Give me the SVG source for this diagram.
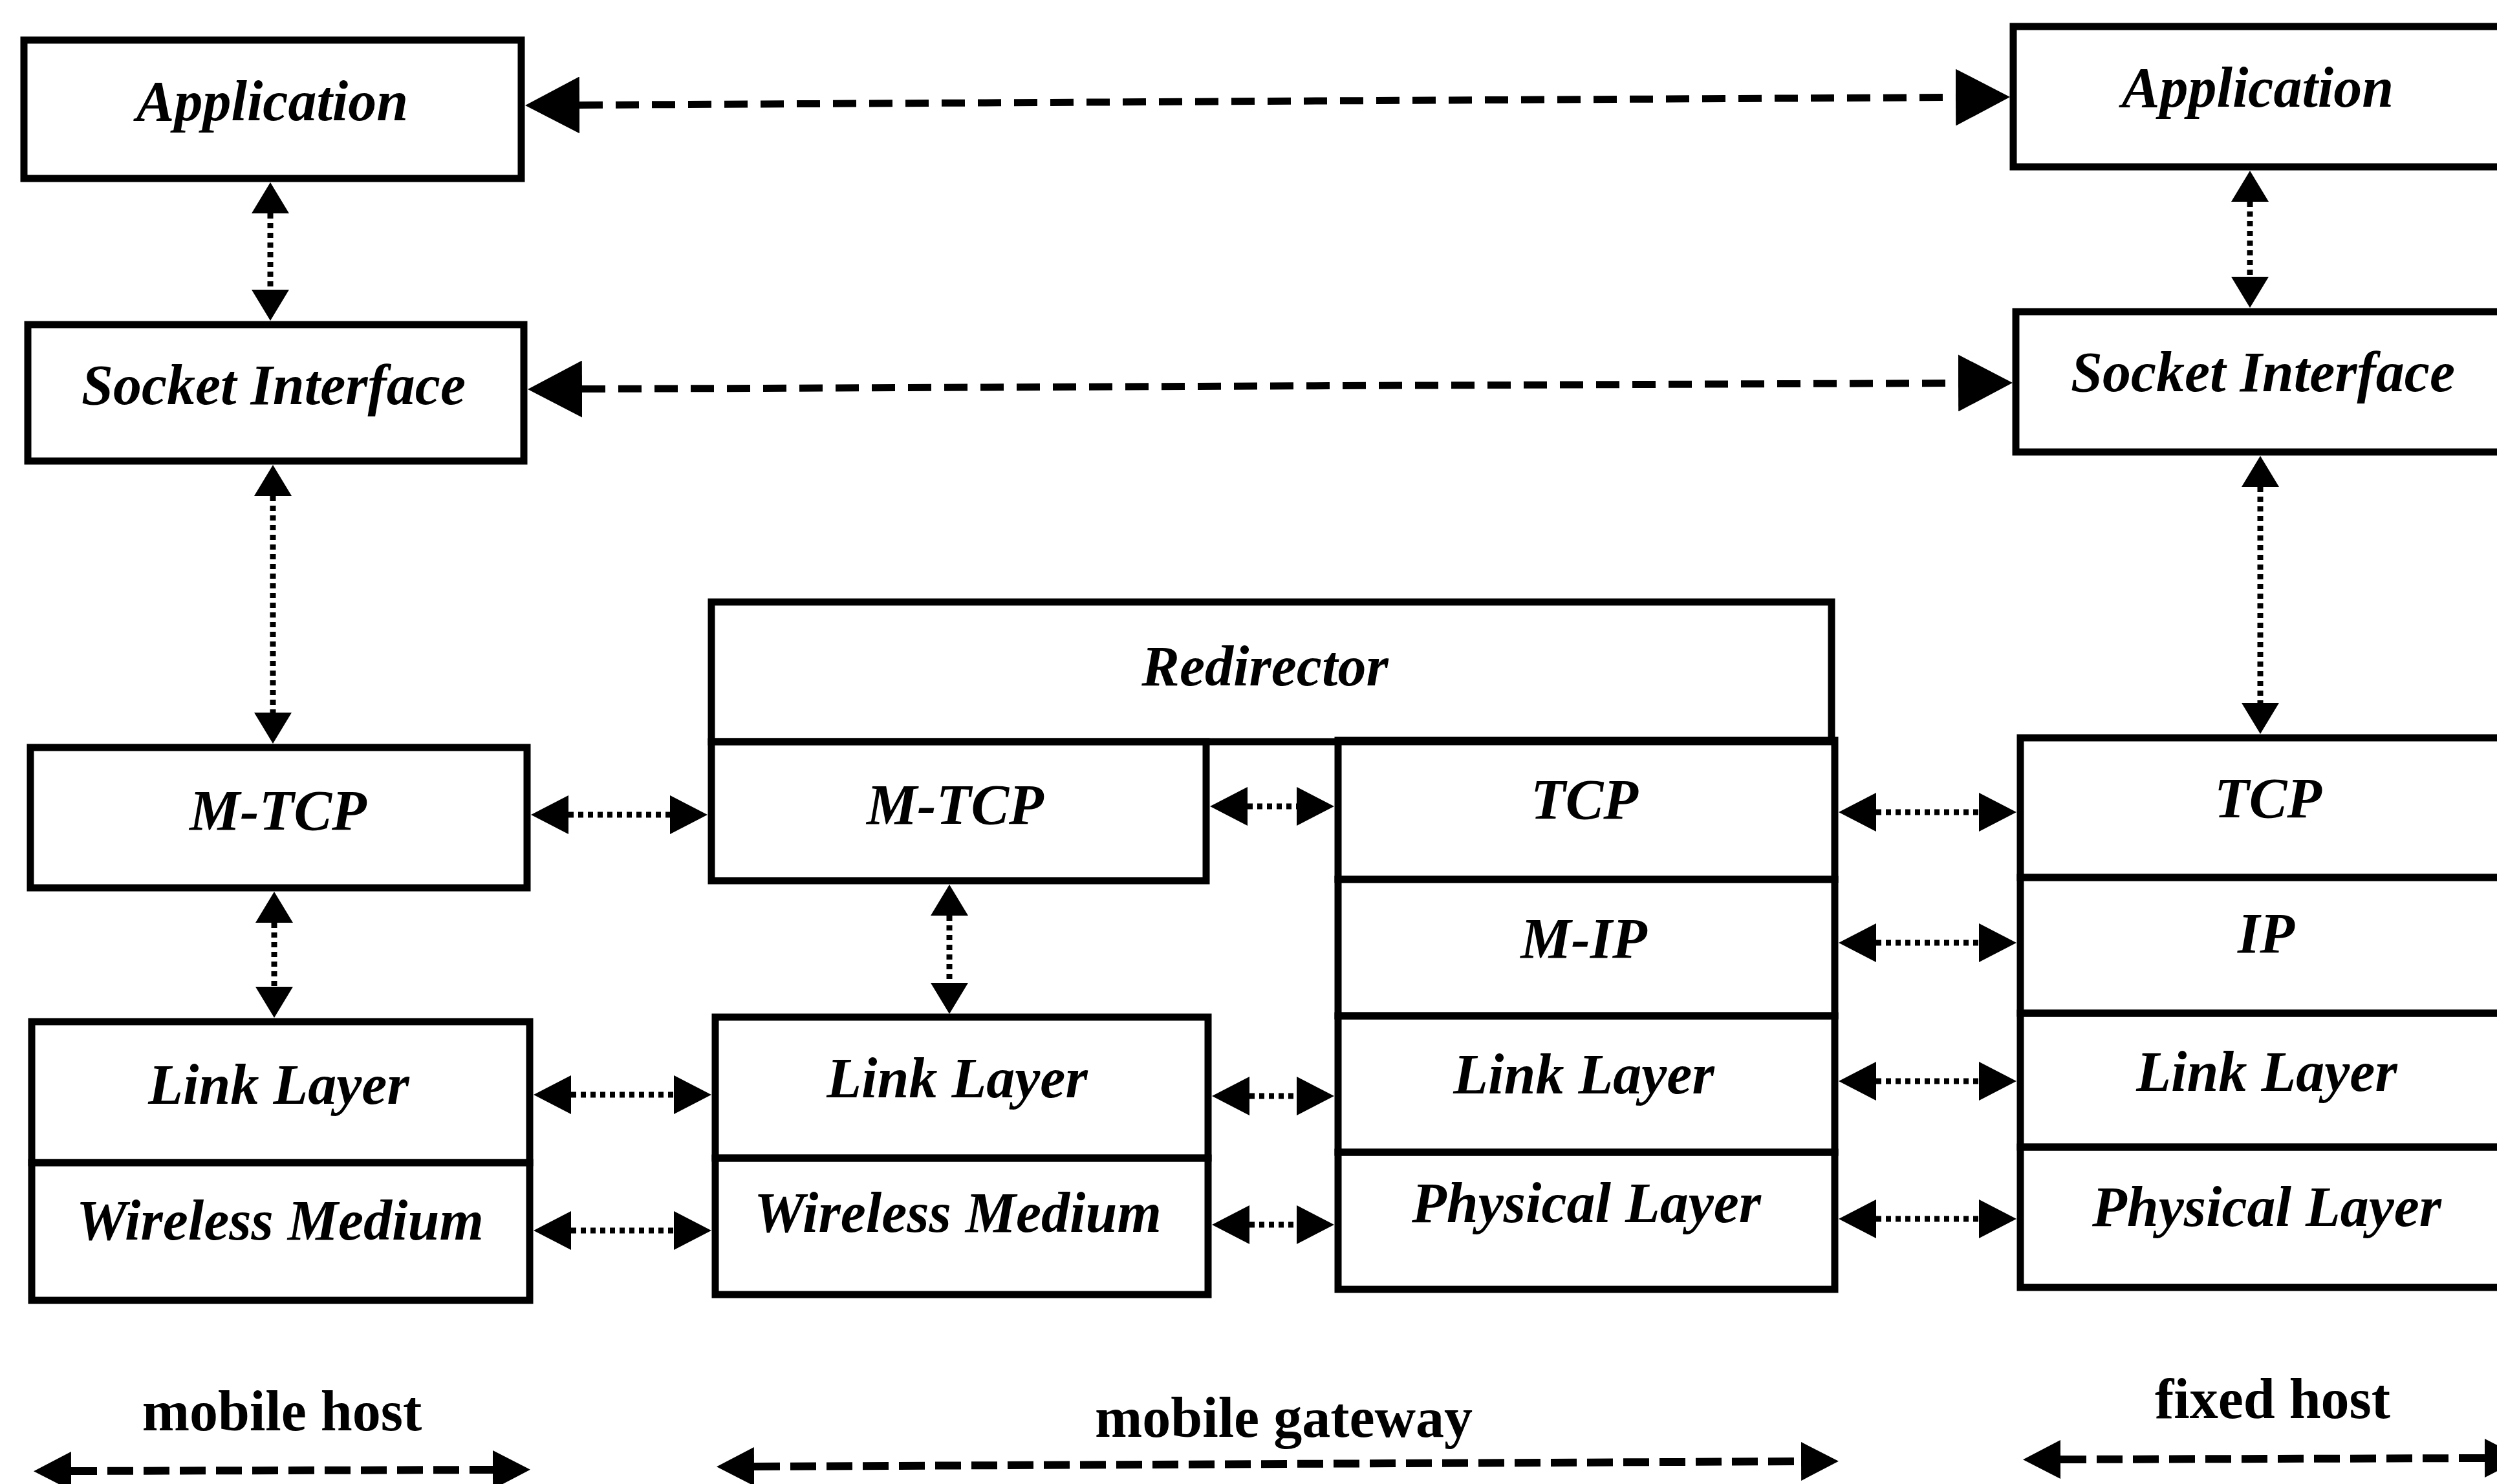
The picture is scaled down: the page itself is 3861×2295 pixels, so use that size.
<svg xmlns="http://www.w3.org/2000/svg" width="3861" height="2295" viewBox="0 0 3861 2295">
<style>
.box{fill:none;stroke:#000;stroke-width:11}
.lbl{font-family:"Liberation Serif","Times New Roman",serif;font-size:88px;font-weight:bold;font-style:italic;text-anchor:middle;fill:#000}
.cap{font-family:"Liberation Serif","Times New Roman",serif;font-size:88px;font-weight:bold;text-anchor:middle;fill:#000}
.dash{stroke:#000;stroke-width:11;stroke-dasharray:36 20;fill:none}
.dashb{stroke:#000;stroke-width:12;stroke-dasharray:40 16;fill:none}
.dot{stroke:#000;stroke-width:9;stroke-dasharray:8 7;fill:none}
</style>
<defs>
<marker id="ahBig" markerUnits="userSpaceOnUse" markerWidth="84" markerHeight="88" refX="0" refY="44" orient="auto-start-reverse"><path d="M0,0 L84,44 L0,88 z" fill="#000"/></marker>
<marker id="ah" markerUnits="userSpaceOnUse" markerWidth="58" markerHeight="60" refX="0" refY="30" orient="auto-start-reverse"><path d="M0,0 L58,30 L0,60 z" fill="#000"/></marker>
<marker id="ahv" markerUnits="userSpaceOnUse" markerWidth="48" markerHeight="58" refX="0" refY="29" orient="auto-start-reverse"><path d="M0,0 L48,29 L0,58 z" fill="#000"/></marker>
</defs>
<rect width="3861" height="2295" fill="#fff"/>

<!-- mobile host -->
<g id="mh-application"><rect class="box" x="37" y="62" width="769" height="214"/><text class="lbl" x="421" y="186">Application</text></g>
<g id="mh-socket"><rect class="box" x="43" y="502" width="767" height="211"/><text class="lbl" x="423" y="625">Socket Interface</text></g>
<g id="mh-mtcp"><rect class="box" x="47" y="1156" width="768" height="217"/><text class="lbl" x="430" y="1283">M-TCP</text></g>
<g id="mh-link"><rect class="box" x="49" y="1580" width="770" height="218"/><text class="lbl" x="431" y="1707">Link Layer</text></g>
<g id="mh-wireless"><rect class="box" x="49" y="1798" width="770" height="213"/><text class="lbl" x="433" y="1917">Wireless Medium</text></g>

<!-- mobile gateway -->
<g id="gw-redirector"><rect class="box" x="1100" y="931" width="1732" height="216"/><text class="lbl" x="1956" y="1060">Redirector</text></g>
<g id="gw-mtcp"><rect class="box" x="1100" y="1147" width="765" height="215"/><text class="lbl" x="1477" y="1274">M-TCP</text></g>
<g id="gw-link-w"><rect class="box" x="1106" y="1573" width="762" height="218"/><text class="lbl" x="1480" y="1697">Link Layer</text></g>
<g id="gw-wireless"><rect class="box" x="1106" y="1791" width="762" height="211"/><text class="lbl" x="1481" y="1905">Wireless Medium</text></g>
<g id="gw-tcp"><rect class="box" x="2069" y="1145" width="768" height="215"/><text class="lbl" x="2450" y="1266">TCP</text></g>
<g id="gw-mip"><rect class="box" x="2069" y="1360" width="768" height="211"/><text class="lbl" x="2449" y="1481">M-IP</text></g>
<g id="gw-link"><rect class="box" x="2069" y="1571" width="768" height="211"/><text class="lbl" x="2449" y="1691">Link Layer</text></g>
<g id="gw-physical"><rect class="box" x="2069" y="1782" width="768" height="212"/><text class="lbl" x="2453" y="1890">Physical Layer</text></g>

<!-- fixed host -->
<g id="fh-application"><rect class="box" x="3113" y="41" width="800" height="217"/><text class="lbl" x="3491" y="165">Application</text></g>
<g id="fh-socket"><rect class="box" x="3117" y="482" width="800" height="217"/><text class="lbl" x="3499" y="605">Socket Interface</text></g>
<g id="fh-tcp"><rect class="box" x="3124" y="1141" width="800" height="216"/><text class="lbl" x="3507" y="1264">TCP</text></g>
<g id="fh-ip"><rect class="box" x="3124" y="1357" width="800" height="210"/><text class="lbl" x="3504" y="1473">IP</text></g>
<g id="fh-link"><rect class="box" x="3124" y="1567" width="800" height="207"/><text class="lbl" x="3505" y="1687">Link Layer</text></g>
<g id="fh-physical"><rect class="box" x="3124" y="1774" width="800" height="217"/><text class="lbl" x="3505" y="1896">Physical Layer</text></g>

<!-- bottom labels -->
<g id="label-mobile-host"><text class="cap" x="436" y="2212">mobile host</text></g>
<g id="label-mobile-gateway"><text class="cap" x="1985" y="2222">mobile gateway</text></g>
<g id="label-fixed-host"><text class="cap" x="3514" y="2193">fixed host</text></g>

<g id="connectors">
<line class="dash" x1="896" y1="162.5" x2="3024" y2="150.5" marker-start="url(#ahBig)" marker-end="url(#ahBig)"/>
<line class="dash" x1="900" y1="601.6" x2="3028" y2="592.4" marker-start="url(#ahBig)" marker-end="url(#ahBig)"/>

<line class="dot" x1="418" y1="330" x2="418" y2="448" marker-start="url(#ahv)" marker-end="url(#ahv)"/>
<line class="dot" x1="422" y1="767" x2="422" y2="1102" marker-start="url(#ahv)" marker-end="url(#ahv)"/>
<line class="dot" x1="424" y1="1427" x2="424" y2="1526" marker-start="url(#ahv)" marker-end="url(#ahv)"/>
<line class="dot" x1="1468" y1="1416" x2="1468" y2="1520" marker-start="url(#ahv)" marker-end="url(#ahv)"/>
<line class="dot" x1="3479" y1="312" x2="3479" y2="428" marker-start="url(#ahv)" marker-end="url(#ahv)"/>
<line class="dot" x1="3495" y1="753" x2="3495" y2="1087" marker-start="url(#ahv)" marker-end="url(#ahv)"/>

<line class="dot" x1="879" y1="1260" x2="1036" y2="1260" marker-start="url(#ah)" marker-end="url(#ah)"/>
<line class="dot" x1="883" y1="1693" x2="1042" y2="1693" marker-start="url(#ah)" marker-end="url(#ah)"/>
<line class="dot" x1="883" y1="1903" x2="1042" y2="1903" marker-start="url(#ah)" marker-end="url(#ah)"/>
<line class="dot" x1="1929" y1="1247" x2="2005" y2="1247" marker-start="url(#ah)" marker-end="url(#ah)"/>
<line class="dot" x1="1932" y1="1695" x2="2005" y2="1695" marker-start="url(#ah)" marker-end="url(#ah)"/>
<line class="dot" x1="1932" y1="1894" x2="2005" y2="1894" marker-start="url(#ah)" marker-end="url(#ah)"/>
<line class="dot" x1="2901" y1="1256" x2="3060" y2="1256" marker-start="url(#ah)" marker-end="url(#ah)"/>
<line class="dot" x1="2901" y1="1458" x2="3060" y2="1458" marker-start="url(#ah)" marker-end="url(#ah)"/>
<line class="dot" x1="2901" y1="1672" x2="3060" y2="1672" marker-start="url(#ah)" marker-end="url(#ah)"/>
<line class="dot" x1="2901" y1="1885" x2="3060" y2="1885" marker-start="url(#ah)" marker-end="url(#ah)"/>

<line class="dashb" x1="110" y1="2275" x2="762" y2="2273" marker-start="url(#ah)" marker-end="url(#ah)"/>
<line class="dashb" x1="1166" y1="2268" x2="2785" y2="2260" marker-start="url(#ah)" marker-end="url(#ah)"/>
<line class="dashb" x1="3186" y1="2257" x2="3842" y2="2255" marker-start="url(#ah)" marker-end="url(#ah)"/>
</g>
</svg>
